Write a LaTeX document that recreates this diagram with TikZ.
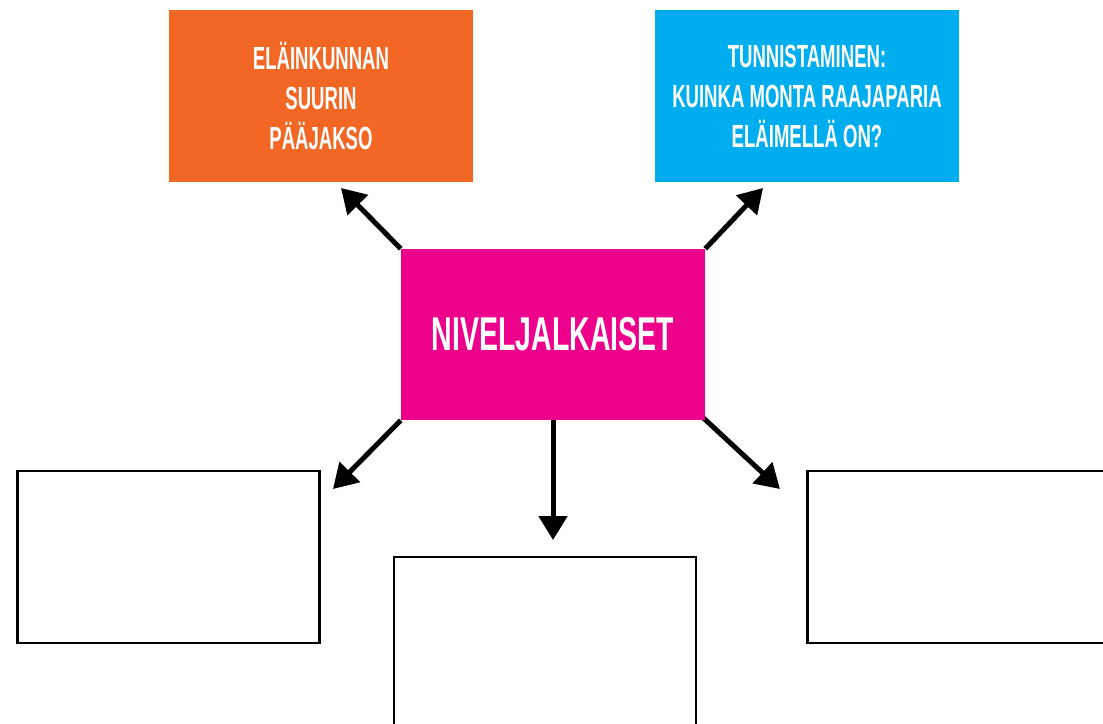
\documentclass[tikz,border=0pt]{standalone}
\usepackage{fontspec}
\newfontfamily\bebas{Liberation Sans}[FakeStretch=0.58]
\newfontfamily\bebasbig{Liberation Sans}[FakeStretch=0.60]
\usetikzlibrary{arrows.meta,backgrounds}
\definecolor{orangebox}{RGB}{242,103,36}
\definecolor{bluebox}{RGB}{0,174,239}
\definecolor{pinkbox}{RGB}{236,0,140}
\tikzset{
  fillbox/.style={inner sep=0pt, minimum width=228pt, minimum height=129pt, text=white, align=center,
    font=\bebas\bfseries\fontsize{24}{30}\selectfont},
  emptybox/.style={draw=black, line width=1.9pt, inner sep=0pt, minimum width=226.5pt, minimum height=129pt},
  arr/.style={line width=3.75pt, -{Triangle[length=18pt,width=21pt]}}
}
\begin{document}
\begin{tikzpicture}[x=0.75pt,y=-0.75pt]
\clip (0,0) rectangle (1103,724);
\useasboundingbox (0,0) rectangle (1103,724);
\node[fillbox, fill=orangebox] (orange) at (321,96) {ELÄINKUNNAN\\SUURIN\\PÄÄJAKSO};
\node[fillbox, fill=bluebox] (blue) at (807,96) {TUNNISTAMINEN:\\KUINKA MONTA RAAJAPARIA\\ELÄIMELLÄ ON?};
\node[fillbox, fill=pinkbox, minimum height=128.25pt, font=\bebasbig\bfseries\fontsize{35.6}{40}\selectfont] (pink) at (553,334.5) {NIVELJALKAISET};
\node[emptybox] (bl) at (168.5,557) {};
\node[emptybox] (bc) at (545,643) {};
\node[emptybox] (br) at (958.5,557) {};
\coordinate (t1) at (341,188);
\coordinate (t2) at (763,188);
\coordinate (t3) at (333,489);
\coordinate (t4) at (553,540);
\coordinate (t5) at (780,489);
\begin{scope}[on background layer]
\draw[arr] (pink.north west) -- (t1);
\draw[arr] (pink.north east) -- (t2);
\draw[arr] (pink.south west) -- (t3);
\draw[arr] (pink.south) -- (t4);
\draw[arr] ([shift={(-8,-8)}]pink.south east) -- (t5);
\end{scope}
\end{tikzpicture}
\end{document}
